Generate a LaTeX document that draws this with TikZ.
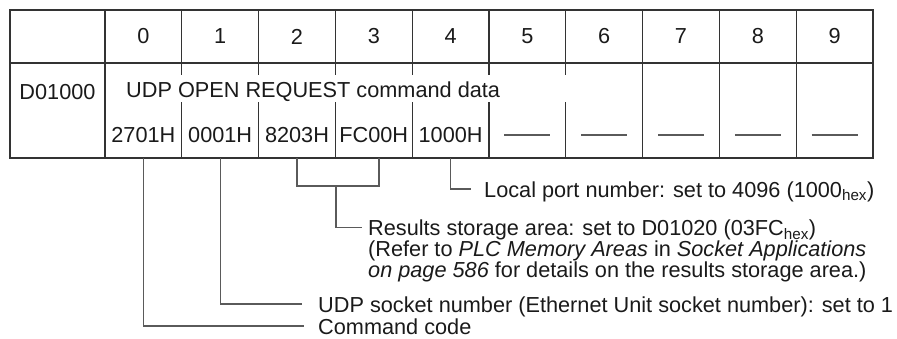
\documentclass[tikz,border=0pt]{standalone}
\usepackage{fontspec}
\setmainfont{Liberation Sans}
\definecolor{Grid}{HTML}{333333}
\definecolor{Lead}{HTML}{5A5A5A}
\definecolor{Txt}{HTML}{1A1A1A}
\newcommand\notefont{\fontsize{21.7}{19}\selectfont\lineskiplimit=-100pt\relax}

\begin{document}
\begin{tikzpicture}[x=1pt, y=-1pt,
      cell/.style={inner sep=0pt, text=Txt, font=\notefont},
      note/.style={inner sep=0pt, text=Txt, anchor=base west, align=left, font=\notefont},
      grid/.style={draw=Grid, line width=1.2pt},
      lead/.style={draw=Lead, line width=1.1pt}]

    \useasboundingbox (0,0) rectangle (897,338);

    \draw[grid] (10,10) rectangle (873,158);
    \draw[grid] (10,63) -- (873,63);
    \draw[grid] (105,10) -- (105,158);
    \foreach \x in {181.8, 258.6, 335.4, 412.2, 489, 565.8} {
      \draw[grid] (\x,10) -- (\x,75);
      \draw[grid] (\x,102) -- (\x,158);
    }
    \foreach \x in {642.6, 719.4, 796.2}
      \draw[grid] (\x,10) -- (\x,158);

    \node[cell] (h0) at (143.4,36.5) {0};
    \node[cell] (h1) at (220.2,36.5) {1};
    \node[cell] (h2) at (297.0,36.5) {2};
    \node[cell] (h3) at (373.8,36.5) {3};
    \node[cell] (h4) at (450.6,36.5) {4};
    \node[cell] (h5) at (527.4,36.5) {5};
    \node[cell] (h6) at (604.2,36.5) {6};
    \node[cell] (h7) at (681.0,36.5) {7};
    \node[cell] (h8) at (757.8,36.5) {8};
    \node[cell] (h9) at (834.6,36.5) {9};

    \node[cell] (addr) at (57.5,92) {D01000};
    \node[cell, anchor=base west] (title) at (126,97) {UDP OPEN REQUEST command data};

    \node[cell] (v0) at (143.4,135) {2701H};
    \node[cell] (v1) at (220.2,135) {0001H};
    \node[cell] (v2) at (297.0,135) {8203H};
    \node[cell] (v3) at (373.8,135) {FC00H};
    \node[cell] (v4) at (450.6,135) {1000H};
    \foreach \c in {527.4, 604.2, 681.0, 757.8, 834.6}
      \draw[lead] (\c-23,135) -- (\c+23,135);

    \node[note] (port) at (484,197) {Local port number: set to 4096 (1000\textsubscript{hex})};
    \node[note, anchor=north west] (res) at (368,220)
      {Results storage area: set to D01020 (03FC\textsubscript{hex})\\[2pt]
       (Refer to \textit{PLC Memory Areas} in \textit{Socket Applications}\\[2pt]
       \textit{on page 586} for details on the results storage area.)};
    \node[note] (sock) at (318,312) {UDP socket number (Ethernet Unit socket number): set to 1};
    \node[note] (cmd) at (318,334) {Command code};

    \coordinate (tb) at (0,158);
    \coordinate (br) at (379,158);
    \coordinate (bm) at (336,186);

    \draw[lead] (v4 |- tb) |- ([xshift=-13pt, yshift=8pt]port.base west);
    \draw[lead] (v2 |- tb) -- ++(0,28) -| (br);
    \draw[lead] (bm) |- ([xshift=-6pt, yshift=-7.8pt]res.north west);
    \draw[lead] (v1 |- tb) |- ([xshift=-16pt, yshift=8pt]sock.base west);
    \draw[lead] (v0 |- tb) |- ([xshift=-14pt, yshift=8pt]cmd.base west);
  \end{tikzpicture}
\end{document}
